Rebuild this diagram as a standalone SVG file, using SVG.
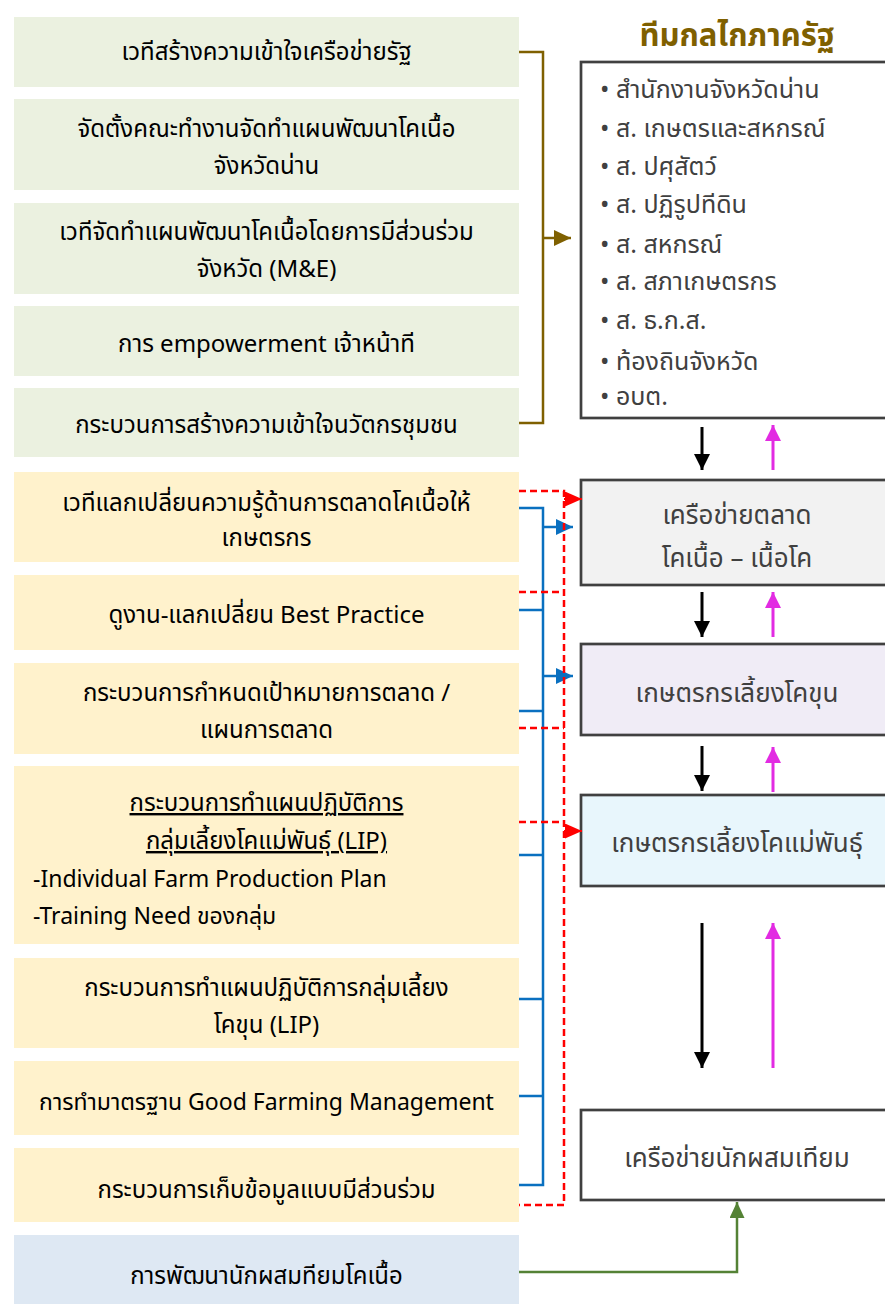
<svg xmlns="http://www.w3.org/2000/svg" width="885" height="1304" viewBox="0 0 885 1304">
<style>
.t{font-family:"Noto Sans Thai","Noto Sans","Liberation Sans",sans-serif;font-size:24px;fill:#000;text-anchor:middle}
.e{font-size:23px}
.tl{text-anchor:start}
.r{font-family:"Noto Sans Thai","Noto Sans","Liberation Sans",sans-serif;font-size:26px;fill:#404040;text-anchor:middle}
.li{font-family:"Noto Sans Thai","Noto Sans","Liberation Sans",sans-serif;font-size:25px;fill:#404040}
.g{fill:#ebf1e0}
.y{fill:#fff2cc}
.b{fill:#dee8f3}
.rb{stroke:#404040;stroke-width:2.7}
.blk{stroke:#000;stroke-width:3;fill:none}
.mag{stroke:#e22be2;stroke-width:3;fill:none}
.brn{stroke:#7f6000;stroke-width:2.5;fill:none}
.blu{stroke:#0a70c0;stroke-width:2.5;fill:none}
.red{stroke:#ff0000;stroke-width:2.5;fill:none;stroke-dasharray:7 4}
.grn{stroke:#548235;stroke-width:2.5;fill:none}
</style>
<defs>
<marker id="ab" markerUnits="userSpaceOnUse" markerWidth="16" markerHeight="16" refX="16" refY="8" orient="auto"><path d="M0,0 L16,8 L0,16 Z" fill="#000"/></marker>
<marker id="am" markerUnits="userSpaceOnUse" markerWidth="16" markerHeight="16" refX="16" refY="8" orient="auto"><path d="M0,0 L16,8 L0,16 Z" fill="#e22be2"/></marker>
<marker id="abr" markerUnits="userSpaceOnUse" markerWidth="17" markerHeight="16" refX="17" refY="8" orient="auto"><path d="M0,0 L17,8 L0,16 Z" fill="#7f6000"/></marker>
<marker id="abl" markerUnits="userSpaceOnUse" markerWidth="17" markerHeight="16" refX="17" refY="8" orient="auto"><path d="M0,0 L17,8 L0,16 Z" fill="#0a70c0"/></marker>
<marker id="ard" markerUnits="userSpaceOnUse" markerWidth="17" markerHeight="15" refX="17" refY="7.5" orient="auto"><path d="M0,0 L17,7.5 L0,15 Z" fill="#ff0000"/></marker>
<marker id="agr" markerUnits="userSpaceOnUse" markerWidth="16" markerHeight="15" refX="16" refY="7.5" orient="auto"><path d="M0,0 L16,7.5 L0,15 Z" fill="#548235"/></marker>
</defs>
<rect width="885" height="1304" fill="#fff"/>

<g id="n1"><rect class="g" x="14" y="17" width="505" height="70"/><text class="t" x="266.5" y="60">เวทีสร้างความเข้าใจเครือข่ายรัฐ</text></g>
<g id="n2"><rect class="g" x="14" y="99" width="505" height="91"/><text class="t" x="266.5" y="137">จัดตั้งคณะทำงานจัดทำแผนพัฒนาโคเนื้อ</text><text class="t" x="266.5" y="174">จังหวัดน่าน</text></g>
<g id="n3"><rect class="g" x="14" y="203" width="505" height="91"/><text class="t" x="266.5" y="240">เวทีจัดทำแผนพัฒนาโคเนื้อโดยการมีส่วนร่วม</text><text class="t" x="266.5" y="277">จังหวัด (M&amp;E)</text></g>
<g id="n4"><rect class="g" x="14" y="306" width="505" height="70"/><text class="t" x="266.5" y="352">การ empowerment เจ้าหน้าที</text></g>
<g id="n5"><rect class="g" x="14" y="388" width="505" height="69"/><text class="t" x="266.5" y="433">กระบวนการสร้างความเข้าใจนวัตกรชุมชน</text></g>

<g id="n6"><rect class="y" x="14" y="472" width="505" height="90"/><text class="t" x="266.5" y="511">เวทีแลกเปลี่ยนความรู้ด้านการตลาดโคเนื้อให้</text><text class="t" x="266.5" y="546">เกษตรกร</text></g>
<g id="n7"><rect class="y" x="14" y="575" width="505" height="75"/><text class="t" x="266.5" y="623">ดูงาน-แลกเปลี่ยน Best Practice</text></g>
<g id="n8"><rect class="y" x="14" y="663" width="505" height="91"/><text class="t" x="266.5" y="701">กระบวนการกำหนดเป้าหมายการตลาด /</text><text class="t" x="266.5" y="738">แผนการตลาด</text></g>
<g id="n9"><rect class="y" x="14" y="766" width="505" height="178"/><text class="t" x="266.5" y="811" text-decoration="underline">กระบวนการทำแผนปฏิบัติการ</text><text class="t" x="266.5" y="849" text-decoration="underline">กลุ่มเลี้ยงโคแม่พันธุ์ (LIP)</text><text class="t tl e" x="33" y="887">-Individual Farm Production Plan</text><text class="t tl e" x="33" y="924">-Training Need ของกลุ่ม</text></g>
<g id="n10"><rect class="y" x="14" y="958" width="505" height="90"/><text class="t" x="266.5" y="996">กระบวนการทำแผนปฏิบัติการกลุ่มเลี้ยง</text><text class="t" x="266.5" y="1033">โคขุน (LIP)</text></g>
<g id="n11"><rect class="y" x="14" y="1061" width="505" height="74"/><text class="t e" x="266.5" y="1110">การทำมาตรฐาน Good Farming Management</text></g>
<g id="n12"><rect class="y" x="14" y="1148" width="505" height="74"/><text class="t" x="266.5" y="1198">กระบวนการเก็บข้อมูลแบบมีส่วนร่วม</text></g>
<g id="n13"><rect class="b" x="14" y="1235" width="505" height="69"/><text class="t" x="266.5" y="1284">การพัฒนานักผสมทียมโคเนื้อ</text></g>

<g id="title"><text x="737" y="46" font-family="'Noto Sans Thai','Noto Sans','Liberation Sans',sans-serif" font-size="31" font-weight="bold" fill="#7f6000" text-anchor="middle">ทีมกลไกภาครัฐ</text></g>
<g id="gov"><rect class="rb" x="581" y="62" width="310" height="356" fill="#fff"/>
<text class="li" x="600" y="98">• สำนักงานจังหวัดน่าน</text>
<text class="li" x="600" y="137">• ส. เกษตรและสหกรณ์</text>
<text class="li" x="600" y="175">• ส. ปศุสัตว์</text>
<text class="li" x="600" y="213">• ส. ปฏิรูปทีดิน</text>
<text class="li" x="600" y="253">• ส. สหกรณ์</text>
<text class="li" x="600" y="290">• ส. สภาเกษตรกร</text>
<text class="li" x="600" y="329">• ส. ธ.ก.ส.</text>
<text class="li" x="600" y="370">• ท้องถินจังหวัด</text>
<text class="li" x="600" y="405">• อบต.</text>
</g>
<g id="market"><rect class="rb" x="581" y="480" width="310" height="105" fill="#f2f2f2"/><text class="r" x="737" y="524">เครือข่ายตลาด</text><text class="r" x="737" y="567">โคเนื้อ – เนื้อโค</text></g>
<g id="fattening"><rect class="rb" x="581" y="644" width="310" height="91" fill="#f0ecf6"/><text class="r" x="737" y="702">เกษตรกรเลี้ยงโคขุน</text></g>
<g id="breeder"><rect class="rb" x="581" y="795" width="310" height="91" fill="#e8f6fc"/><text class="r" x="737" y="852">เกษตรกรเลี้ยงโคแม่พันธุ์</text></g>
<g id="ai"><rect class="rb" x="581" y="1110" width="310" height="90" fill="#fff"/><text class="r" x="737" y="1167">เครือข่ายนักผสมเทียม</text></g>

<g id="connectors">
<path class="brn" d="M519,52 H543 V423 H519"/>
<path class="brn" d="M543,238 H571" marker-end="url(#abr)"/>
<path class="blk" d="M702,427 V470" marker-end="url(#ab)"/>
<path class="mag" d="M773,470 V425" marker-end="url(#am)"/>
<path class="blk" d="M702,592 V637" marker-end="url(#ab)"/>
<path class="mag" d="M773,637 V592" marker-end="url(#am)"/>
<path class="blk" d="M702,746 V791" marker-end="url(#ab)"/>
<path class="mag" d="M773,792 V747" marker-end="url(#am)"/>
<path class="blk" d="M702,923 V1068" marker-end="url(#ab)"/>
<path class="mag" d="M773,1068 V923" marker-end="url(#am)"/>
<path class="blu" d="M519,508 H543 V1185 H519"/>
<path class="blu" d="M519,610 H543 M519,711 H543 M519,855 H543 M519,999 H543 M519,1096 H543"/>
<path class="blu" d="M543,527 H573" marker-end="url(#abl)"/>
<path class="blu" d="M543,676 H573" marker-end="url(#abl)"/>
<path class="red" d="M519,491 H564 V1205 H519"/>
<path class="red" d="M519,592 H564 M519,728 H564 M519,822 H564"/>
<path d="M564,499 H582" stroke="#ff0000" stroke-width="2" marker-end="url(#ard)"/>
<path d="M564,831 H582" stroke="#ff0000" stroke-width="2" marker-end="url(#ard)"/>
<path class="grn" d="M519,1272 H737 V1202" marker-end="url(#agr)"/>
</g>
</svg>
